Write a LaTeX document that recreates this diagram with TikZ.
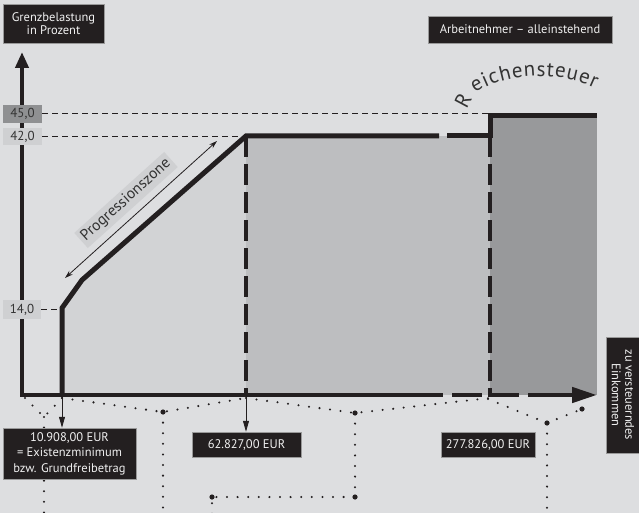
\documentclass[tikz,border=0pt]{standalone}
\usepackage{fontspec}
\setmainfont{PT Sans}
\usetikzlibrary{arrows.meta,decorations.text}
\definecolor{bg}{HTML}{DDDEE0}
\definecolor{rone}{HTML}{D2D3D5}
\definecolor{rtwo}{HTML}{BDBEC0}
\definecolor{rthree}{HTML}{98999B}
\definecolor{ink}{HTML}{231F20}
\definecolor{tickdark}{HTML}{8F9092}
\definecolor{ticklight}{HTML}{CFD0D2}
\definecolor{txt}{HTML}{333333}
\definecolor{boxtxt}{HTML}{F0F0F0}
\begin{document}
\begin{tikzpicture}[x=1pt,y=-1pt,
  darkbox/.style={fill=ink, draw=white!60!black, line width=0.5pt, text=boxtxt,
    font=\fontsize{12.5}{13.5}\selectfont, align=center, inner sep=0pt},
  tickbox/.style={text=txt, font=\fontsize{13}{14}\selectfont, inner sep=0pt},
  guide/.style={draw=ink, line width=1pt, dash pattern=on 6pt off 4pt},
  vdash/.style={draw=ink, line width=3.6pt, dash pattern=on 21pt off 7pt},
  profile/.style={draw=ink, line width=5pt},
  axisline/.style={draw=ink, line width=4.5pt},
  thinarrow/.style={draw=ink, line width=0.9pt, -{Triangle[length=11pt,width=6pt]}},
  dots/.style={draw=ink, line width=2.3pt, line cap=round, dash pattern=on 0pt off 10.6pt},
  blob/.style={fill=ink}
]
\useasboundingbox (0,0) rectangle (639,513);
\fill[bg] (0,0) rectangle (639,513);

% key points
\coordinate (O) at (22,395);
\coordinate (ytop) at (22,52);
\coordinate (xend) at (597,395);
\coordinate (p0) at (62,395);
\coordinate (p1) at (62,308);
\coordinate (p2) at (82,280);
\coordinate (p3) at (246,136);
\coordinate (p4) at (439,136);
\coordinate (p5) at (447,136);
\coordinate (p6) at (490,136);
\coordinate (p7) at (490,116);
\coordinate (p8) at (597,116);
\coordinate (q1) at (246,395);
\coordinate (q2) at (490,395);
\coordinate (q3) at (597,395);

% regions
\fill[rone] (p0) -- (p1) -- (p2) -- (p3) -- (q1) -- cycle;
\fill[rtwo] (p3) rectangle (q2);
\fill[rthree] (p7) rectangle (q3);

% vertical dashed borders
\draw[vdash] (p3) -- (q1);
\draw[vdash] (p6) -- (q2);

% profile
\draw[profile] (p0) -- (p1) -- (p2) -- (p3) -- (p4);
\draw[profile] (p5) -- (p6) -- (p7) -- (p8);

% axes
\draw[axisline, line cap=rect, -{Triangle[length=16pt,width=13pt]}] (O) -- (ytop);
\draw[axisline, dash pattern=on 421pt off 9pt on 30pt off 6pt on 31pt off 9pt on 200pt,
  -{Triangle[length=25pt,width=15pt]}] (O) -- (xend);

% tick labels
\node[tickbox, fill=tickdark, minimum width=39pt, minimum height=18pt] (t45) at (22.5,114) {45,0};
\node[tickbox, fill=ticklight, minimum width=39pt, minimum height=17pt] (t42) at (22.5,136.5) {42,0};
\node[tickbox, fill=ticklight, minimum width=38pt, minimum height=19pt] (t14) at (22,309.5) {14,0};

% guide lines
\draw[guide] (t45.east) -- (t45.east -| p7);
\draw[guide] (t42.east) -- (t42.east -| p3);
\draw[guide] (t14.east) -- (t14.east -| p1);

% Progressionszone
\coordinate (pa) at (65,278);
\coordinate (pb) at (217,141);
\draw[draw=ink, line width=0.8pt, {Stealth[length=8pt,width=5pt]}-{Stealth[length=8pt,width=5pt]}] (pa) -- (pb);
\node[fill=ticklight, rotate=42, text=txt, font=\fontsize{15.5}{17}\selectfont, inner sep=3pt] (prog) at (126,200) {Progressionszone};

% Reichensteuer
\node[text=txt, rotate=62, font=\fontsize{21}{22}\selectfont, inner sep=0pt] (rR) at (463,100) {R};
\path[decorate, decoration={text along path, text align={fit to path}, text color=txt,
  text={|\fontsize{21}{22}\selectfont|eichensteuer}}]
  (475,93) .. controls (505,73) and (558,70) .. (595,88);

% braces
\coordinate (b1l) at (25,398); \coordinate (b1t) at (44,417); \coordinate (b1r) at (62,398); \coordinate (b1b) at (44,516);
\coordinate (b2l) at (62,398); \coordinate (b2t) at (163,412); \coordinate (b2r) at (246,398); \coordinate (b2b) at (163,516);
\coordinate (b3l) at (246,398); \coordinate (b3t) at (355,413); \coordinate (b3r) at (490,398);
\coordinate (b3c) at (355,497); \coordinate (b3d) at (212,497); \coordinate (b3b) at (212,516);
\coordinate (b4l) at (488,399); \coordinate (b4t) at (547,423); \coordinate (b4r) at (582,409); \coordinate (b4b) at (547,516);
\draw[dots] (b1l) -- (b1t) -- (b1r);
\draw[dots] (b1t) -- (b1b);
\draw[dots] (b2l) -- (b2t) -- (b2r);
\draw[dots] (b2t) -- (b2b);
\draw[dots] (b3l) -- (b3t) -- (b3r);
\draw[dots] (b3t) -- (b3c) -- (b3d) -- (b3b);
\draw[dots] (b4l) -- (b4t) -- (b4r);
\draw[dots] (b4t) -- (b4b);
\foreach \c in {b2t,b3t,b3c,b3d,b4t,b4r} \fill[blob] (\c) circle (2.6pt);

% boxes
\node[darkbox, minimum width=101pt, minimum height=39pt] (ylab) at (53.5,23.5) {Grenzbelastung\\in Prozent};
\node[darkbox, minimum width=184pt, minimum height=27pt] (title) at (520,29.5) {Arbeitnehmer – alleinstehend};
\node[darkbox, font=\fontsize{12.5}{15.5}\selectfont, minimum width=133pt, minimum height=51pt] (lb1) at (69.5,453.5) {10.908,00 EUR\\= Existenzminimum\\bzw. Grundfreibetrag};
\node[darkbox, minimum width=109pt, minimum height=25pt] (lb2) at (246.5,444.5) {62.827,00 EUR};
\node[darkbox, minimum width=94pt, minimum height=25pt] (lb3) at (488,444.5) {277.826,00 EUR};
\node[darkbox, rotate=-90, minimum width=116pt, minimum height=34pt] (xlab) at (623,395) {zu versteuerndes\\Einkommen};

% value arrows
\draw[thinarrow] (p0) -- (p0 |- lb1.north);
\draw[thinarrow] (q1) -- (q1 |- lb2.north);
\end{tikzpicture}
\end{document}
